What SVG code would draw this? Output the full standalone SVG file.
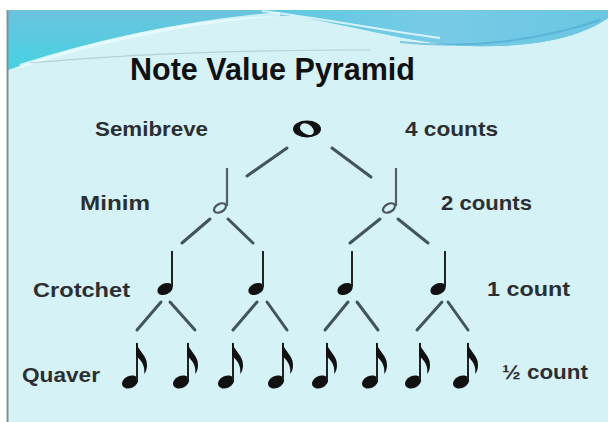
<svg xmlns="http://www.w3.org/2000/svg" width="608" height="422" viewBox="0 0 608 422">
  <defs>
    <linearGradient id="band" x1="0" y1="0" x2="1" y2="0">
      <stop offset="0" stop-color="#5cc8e0"/>
      <stop offset="0.5" stop-color="#78cbe6"/>
      <stop offset="1" stop-color="#6ac6e2"/>
    </linearGradient>
    <linearGradient id="bandL" x1="0" y1="0" x2="0" y2="1">
      <stop offset="0" stop-color="#6cc3df"/>
      <stop offset="1" stop-color="#45d2e2"/>
    </linearGradient>
    <style>
      .lbl { font-family: "Liberation Sans", Arial, sans-serif; font-weight: bold; font-size: 21px; fill: #2c2f31; }
      .title { font-family: "Liberation Sans", Arial, sans-serif; font-weight: bold; font-size: 31px; fill: #111; }
      .con { stroke: #43545a; stroke-width: 3; stroke-linecap: round; fill: none; }
      .ink { fill: #111; }
      .stem { stroke: #222; stroke-width: 2; }
      .mstem { stroke: #555e62; stroke-width: 2.2; }
    </style>
    <g id="crotchet">
      <ellipse cx="0" cy="0" rx="8" ry="5.5" transform="rotate(-25)" class="ink"/>
      <line x1="7" y1="-38" x2="7" y2="-2" class="stem"/>
    </g>
    <g id="quaver">
      <ellipse cx="0" cy="0" rx="8.5" ry="6" transform="rotate(-25)" class="ink"/>
      <line x1="7" y1="-39" x2="7" y2="-2" class="stem"/>
      <path d="M6,-40 C8,-31 17,-27 17,-17 C17,-13 16,-10 14,-8 C15,-13 14,-20 6,-26 Z" class="ink"/>
    </g>
    <g id="minim">
      <ellipse cx="0" cy="0" rx="6.5" ry="4" transform="rotate(-30)" fill="none" stroke="#4a5458" stroke-width="2.2"/>
      <line x1="7" y1="-40" x2="7" y2="-2" class="mstem"/>
    </g>
  </defs>

  <!-- slide background -->
  <rect x="0" y="0" width="608" height="422" fill="#ffffff"/>
  <rect x="8" y="10" width="600" height="412" fill="#d5f2f7"/>
  <!-- top wave band -->
  <path d="M8,10 H608 V18 C580,38 530,48 470,46 C410,44 350,24 300,16 C230,14 120,30 8,70 Z" fill="url(#bandL)"/>
  <path d="M260,10 H608 V18 C580,38 530,48 470,46 C410,44 350,24 260,10 Z" fill="url(#band)"/>
  <path d="M20,66 C120,34 210,20 280,14" fill="none" stroke="#e8fbfd" stroke-width="4" opacity="0.8"/>
  <path d="M30,63 C150,52 280,50 370,50" fill="none" stroke="#9fbcc4" stroke-width="1.2" opacity="0.6"/>
  <path d="M262,11 C320,18 380,30 440,38" fill="none" stroke="#f0fcfe" stroke-width="2" opacity="0.8"/>
  <path d="M400,42 C470,50 540,40 600,20" fill="none" stroke="#4aa9d2" stroke-width="2" opacity="0.6"/>
  <line x1="7.5" y1="10" x2="7.5" y2="422" stroke="#8a8f92" stroke-width="2"/>

  <text class="title" x="130" y="80" textLength="285" lengthAdjust="spacingAndGlyphs">Note Value Pyramid</text>

  <g id="labels">
    <text class="lbl" x="95" y="136" textLength="113" lengthAdjust="spacingAndGlyphs">Semibreve</text>
    <text class="lbl" x="405" y="136" textLength="93" lengthAdjust="spacingAndGlyphs">4 counts</text>
    <text class="lbl" x="80" y="210" textLength="70" lengthAdjust="spacingAndGlyphs">Minim</text>
    <text class="lbl" x="441" y="210" textLength="91" lengthAdjust="spacingAndGlyphs">2 counts</text>
    <text class="lbl" x="33" y="297" textLength="97" lengthAdjust="spacingAndGlyphs">Crotchet</text>
    <text class="lbl" x="487" y="296" textLength="83" lengthAdjust="spacingAndGlyphs">1 count</text>
    <text class="lbl" x="22" y="382" textLength="78" lengthAdjust="spacingAndGlyphs">Quaver</text>
    <text class="lbl" x="502" y="379" textLength="86" lengthAdjust="spacingAndGlyphs">½ count</text>
  </g>

  <g id="connectors">
    <line class="con" x1="287" y1="148" x2="247" y2="176"/>
    <line class="con" x1="332" y1="148" x2="371" y2="177"/>
    <line class="con" x1="210" y1="219" x2="182" y2="243"/>
    <line class="con" x1="228" y1="219" x2="253" y2="243"/>
    <line class="con" x1="380" y1="219" x2="350" y2="243"/>
    <line class="con" x1="398" y1="219" x2="428" y2="243"/>
    <line class="con" x1="161" y1="302" x2="137" y2="330"/>
    <line class="con" x1="170" y1="302" x2="195" y2="330"/>
    <line class="con" x1="257" y1="302" x2="233" y2="330"/>
    <line class="con" x1="267" y1="302" x2="287" y2="330"/>
    <line class="con" x1="348" y1="302" x2="325" y2="330"/>
    <line class="con" x1="357" y1="302" x2="378" y2="330"/>
    <line class="con" x1="442" y1="302" x2="417" y2="330"/>
    <line class="con" x1="448" y1="302" x2="468" y2="330"/>
  </g>

  <g id="semibreve">
    <path d="M293,129 a14,8.5 0 1,0 28,0 a14,8.5 0 1,0 -28,0 Z M301,125 c2,-3 7,-2 10,1 c3,3 4,7 1,8.5 c-3,1.5 -8,-0.5 -10.5,-3.5 c-2,-2.5 -2,-4.5 -0.5,-6 Z" class="ink" fill-rule="evenodd"/>
  </g>

  <g id="minim-1"><use href="#minim" x="220" y="208"/></g>
  <g id="minim-2"><use href="#minim" x="389" y="208"/></g>

  <g id="crotchet-1"><use href="#crotchet" x="165" y="289"/></g>
  <g id="crotchet-2"><use href="#crotchet" x="256" y="289"/></g>
  <g id="crotchet-3"><use href="#crotchet" x="345" y="289"/></g>
  <g id="crotchet-4"><use href="#crotchet" x="438" y="289"/></g>

  <g id="quaver-1"><use href="#quaver" x="130" y="382"/></g>
  <g id="quaver-2"><use href="#quaver" x="181" y="382"/></g>
  <g id="quaver-3"><use href="#quaver" x="226" y="382"/></g>
  <g id="quaver-4"><use href="#quaver" x="276" y="382"/></g>
  <g id="quaver-5"><use href="#quaver" x="320" y="382"/></g>
  <g id="quaver-6"><use href="#quaver" x="370" y="382"/></g>
  <g id="quaver-7"><use href="#quaver" x="413" y="382"/></g>
  <g id="quaver-8"><use href="#quaver" x="461" y="382"/></g>
</svg>
